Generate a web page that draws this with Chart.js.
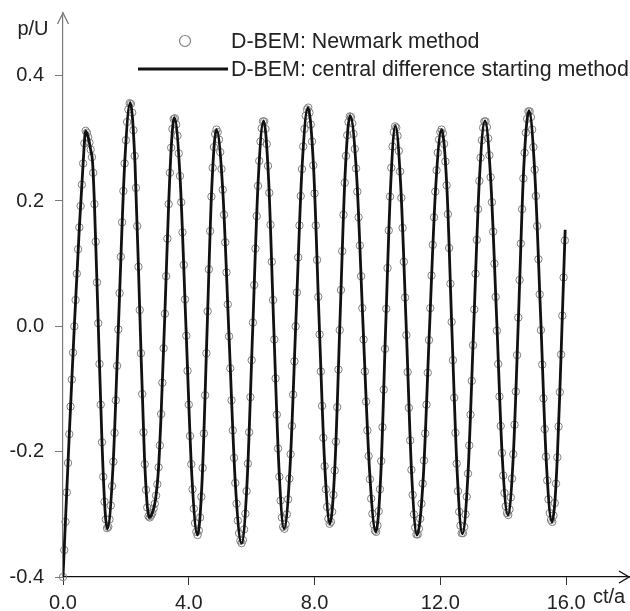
<!DOCTYPE html>
<html>
<head>
<meta charset="utf-8">
<script src="https://cdn.jsdelivr.net/npm/chart.js@4.4.1/dist/chart.umd.min.js"></script>
<style>
  body { margin: 0; background: #fff; }
  #wrap { width: 630px; height: 611px; }
</style>
</head>
<body>
<div id="wrap"><canvas id="chart"></canvas></div>
<script>
// axis ticks
const xTicks = [0, 4, 8, 12, 16];
const yTicks = [-0.4, -0.2, 0.0, 0.2, 0.4];

// D-BEM: Newmark method (circles), one value per time step
const newmarkStep = 0.04;
const newmarkP = [
  -0.400,-0.357,-0.312,-0.265,-0.218,-0.172,-0.128,-0.085,-0.042,0.000,0.042,0.084,0.123,0.158,0.192,0.226,0.260,0.292,0.312,0.309,0.302,0.293,0.282,0.270,0.245,
  0.195,0.135,0.070,0.005,-0.060,-0.125,-0.185,-0.240,-0.280,-0.308,-0.322,-0.320,-0.308,-0.286,-0.255,-0.216,-0.170,-0.118,-0.063,-0.005,0.053,0.111,0.166,0.216,0.260,
  0.297,0.326,0.346,0.356,0.355,0.341,0.313,0.272,0.221,0.160,0.095,0.026,-0.043,-0.108,-0.169,-0.220,-0.261,-0.289,-0.303,-0.305,-0.302,-0.298,-0.291,-0.283,-0.270,
  -0.252,-0.225,-0.190,-0.140,-0.090,-0.035,0.020,0.080,0.140,0.195,0.245,0.285,0.315,0.331,0.332,0.322,0.304,0.276,0.240,0.198,0.150,0.098,0.043,-0.015,-0.071,
  -0.125,-0.175,-0.220,-0.260,-0.291,-0.314,-0.328,-0.333,-0.326,-0.305,-0.272,-0.226,-0.171,-0.110,-0.043,0.024,0.091,0.152,0.207,0.253,0.286,0.307,0.314,0.310,0.298,
  0.278,0.251,0.218,0.178,0.134,0.086,0.035,-0.016,-0.067,-0.118,-0.166,-0.210,-0.250,-0.283,-0.310,-0.330,-0.342,-0.346,-0.341,-0.324,-0.299,-0.263,-0.219,-0.169,-0.113,
  -0.054,0.006,0.066,0.124,0.176,0.224,0.264,0.295,0.316,0.327,0.327,0.315,0.291,0.256,0.213,0.162,0.103,0.042,-0.021,-0.083,-0.141,-0.195,-0.240,-0.278,-0.305,
  -0.320,-0.323,-0.316,-0.300,-0.276,-0.243,-0.204,-0.159,-0.109,-0.056,0.000,0.054,0.110,0.161,0.208,0.251,0.287,0.315,0.336,0.346,0.349,0.341,0.322,0.295,0.257,
  0.212,0.161,0.106,0.047,-0.013,-0.072,-0.127,-0.178,-0.223,-0.260,-0.288,-0.307,-0.315,-0.312,-0.296,-0.269,-0.230,-0.184,-0.129,-0.069,-0.006,0.058,0.120,0.178,0.229,
  0.272,0.305,0.326,0.335,0.334,0.324,0.307,0.283,0.252,0.215,0.174,0.129,0.080,0.029,-0.021,-0.072,-0.120,-0.166,-0.207,-0.244,-0.275,-0.299,-0.316,-0.326,-0.328,
  -0.318,-0.295,-0.260,-0.215,-0.161,-0.101,-0.036,0.028,0.093,0.153,0.207,0.253,0.287,0.310,0.319,0.317,0.304,0.280,0.247,0.205,0.157,0.103,0.046,-0.014,-0.073,
  -0.130,-0.182,-0.229,-0.269,-0.300,-0.321,-0.332,-0.332,-0.323,-0.307,-0.283,-0.251,-0.214,-0.171,-0.125,-0.074,-0.022,0.029,0.081,0.130,0.174,0.215,0.249,0.277,0.298,
  0.310,0.314,0.308,0.291,0.263,0.225,0.179,0.125,0.068,0.007,-0.054,-0.114,-0.170,-0.219,-0.263,-0.296,-0.318,-0.330,-0.330,-0.320,-0.300,-0.272,-0.235,-0.190,-0.141,
  -0.087,-0.030,0.027,0.084,0.138,0.187,0.232,0.269,0.297,0.317,0.327,0.327,0.318,0.300,0.273,0.238,0.198,0.151,0.100,0.047,-0.007,-0.060,-0.112,-0.159,-0.202,
  -0.238,-0.266,-0.287,-0.298,-0.301,-0.292,-0.273,-0.243,-0.204,-0.157,-0.104,-0.046,0.014,0.074,0.132,0.187,0.236,0.277,0.309,0.331,0.343,0.343,0.334,0.314,0.286,
  0.250,0.208,0.160,0.107,0.051,-0.006,-0.061,-0.115,-0.164,-0.208,-0.246,-0.276,-0.298,-0.309,-0.312,-0.302,-0.282,-0.251,-0.209,-0.160,-0.105,-0.045,0.017,0.078,0.137
];

// D-BEM: central difference starting method (solid line)
const centralT = [
  0.00, 0.20, 0.36, 0.52, 0.64, 0.72,
  0.80, 0.88, 0.94, 1.00, 1.12, 1.24, 1.34, 1.41,
  1.59, 1.775, 1.96, 2.14,
  2.29, 2.44, 2.59, 2.74,
  2.84, 2.94, 3.04, 3.12, 3.24, 3.36, 3.46, 3.54,
  3.725, 3.91, 4.095, 4.28,
  4.43, 4.58, 4.73, 4.88,
  5.08, 5.28, 5.48, 5.68,
  5.855, 6.03, 6.205, 6.38,
  6.54, 6.70, 6.87, 7.03,
  7.22, 7.41, 7.60, 7.79,
  7.97, 8.14, 8.32, 8.49,
  8.65, 8.81, 8.97, 9.13,
  9.34, 9.54, 9.75, 9.95,
  10.11, 10.26, 10.42, 10.57,
  10.74, 10.92, 11.09, 11.26,
  11.46, 11.65, 11.85, 12.04,
  12.21, 12.37, 12.54, 12.70,
  12.88, 13.06, 13.24, 13.42,
  13.60, 13.79, 13.97, 14.15,
  14.32, 14.49, 14.65, 14.82,
  15.00, 15.19, 15.37, 15.55,
  15.64, 15.72, 15.80, 15.88, 15.97
];
const centralP = [
  -0.400, -0.172, 0.000, 0.158, 0.260, 0.312,
  0.302, 0.282, 0.262, 0.195, 0.005, -0.185, -0.296, -0.323,
  -0.224, 0.017, 0.258, 0.357,
  0.260, 0.026, -0.208, -0.305,
  -0.298, -0.277, -0.225, -0.140, 0.020, 0.195, 0.300, 0.333,
  0.236, 0.000, -0.236, -0.333,
  -0.239, -0.010, 0.220, 0.314,
  0.218, -0.016, -0.250, -0.346,
  -0.248, -0.009, 0.230, 0.328,
  0.233, 0.003, -0.228, -0.323,
  -0.225, 0.013, 0.251, 0.349,
  0.252, 0.017, -0.218, -0.315,
  -0.220, 0.011, 0.241, 0.336,
  0.239, 0.004, -0.231, -0.328,
  -0.233, -0.004, 0.225, 0.320,
  0.225, -0.007, -0.238, -0.333,
  -0.239, -0.010, 0.220, 0.314,
  0.220, -0.009, -0.237, -0.331,
  -0.235, -0.002, 0.232, 0.328,
  0.236, 0.014, -0.209, -0.301,
  -0.207, 0.022, 0.250, 0.344,
  0.248, 0.016, -0.216, -0.312,
  -0.282, -0.209, -0.105, 0.017, 0.154
];

const FONT = '"Liberation Sans", Arial, sans-serif';

const newmarkData = newmarkP.map((p, i) => ({ x: i * newmarkStep, y: p }));
const centralData = centralT.map((t, i) => ({ x: t, y: centralP[i] }));

// arrows, axis titles and legend drawn by hand
const decorPlugin = {
    id: "decor",
    afterDraw(chart) {
        const ctx = chart.ctx;
        const a = chart.chartArea;
        ctx.save();

        ctx.lineWidth = 1.3;
        ctx.strokeStyle = "#7a7a7a";
        ctx.beginPath();
        ctx.moveTo(a.left - 5.5, a.top + 11);
        ctx.lineTo(a.left, a.top);
        ctx.lineTo(a.left + 5.5, a.top + 11);
        ctx.stroke();

        ctx.strokeStyle = "#111";
        ctx.beginPath();
        ctx.moveTo(a.right - 10, a.bottom - 6);
        ctx.lineTo(a.right, a.bottom);
        ctx.lineTo(a.right - 10, a.bottom + 6);
        ctx.stroke();

        ctx.fillStyle = "#222";
        ctx.font = "20px " + FONT;
        ctx.textAlign = "center";
        ctx.textBaseline = "middle";
        ctx.fillText("p/U", 33, 29);
        ctx.fillText("ct/a", 609, 597);

        // legend
        const ds = chart.data.datasets;
        ctx.font = "21.4px " + FONT;
        ctx.textAlign = "left";
        ctx.lineWidth = 1.2;
        ctx.strokeStyle = "#808080";
        ctx.beginPath();
        ctx.arc(185, 41, 5.5, 0, Math.PI * 2);
        ctx.stroke();
        ctx.fillText(ds[1].label, 231, 42);

        ctx.lineWidth = 2.8;
        ctx.strokeStyle = "#111";
        ctx.beginPath();
        ctx.moveTo(138, 69);
        ctx.lineTo(228, 69);
        ctx.stroke();
        ctx.fillText(ds[0].label, 231, 70);

        ctx.restore();
    },
};

new Chart(document.getElementById("chart"), {
    type: "scatter",
    data: {
        datasets: [
            {
                label: "D-BEM: central difference starting method",
                data: centralData,
                showLine: true,
                borderColor: "#111",
                borderWidth: 2.8,
                pointRadius: 0,
                cubicInterpolationMode: "monotone",
                order: 0,
            },
            {
                label: "D-BEM: Newmark method",
                data: newmarkData,
                showLine: false,
                pointStyle: "circle",
                pointRadius: 3.7,
                pointBorderWidth: 1,
                pointBorderColor: "#7f7f7f",
                pointBackgroundColor: "rgba(255,255,255,0)",
                clip: false,
                order: 1,
            },
        ],
    },
    options: {
        responsive: true,
        maintainAspectRatio: false,
        animation: false,
        layout: {
            autoPadding: false,
            padding: { top: 13, right: 1, left: 0, bottom: 0 },
        },
        plugins: {
            legend: { display: false },
            tooltip: { enabled: false },
        },
        scales: {
            x: {
                type: "linear",
                min: 0,
                max: 18,
                afterBuildTicks(scale) {
                    scale.ticks = xTicks.map((v) => ({ value: v }));
                },
                afterFit(scale) {
                    scale.height = 34;
                    scale.paddingLeft = 0;
                    scale.paddingRight = 0;
                },
                ticks: {
                    padding: 6,
                    color: "#222",
                    font: { family: FONT, size: 20 },
                    maxRotation: 0,
                    callback: (v) => Number(v).toFixed(1),
                },
                grid: {
                    drawOnChartArea: false,
                    drawTicks: true,
                    tickLength: 8,
                    color: "#333",
                },
                border: { display: true, color: "#111", width: 1.2 },
            },
            y: {
                type: "linear",
                min: -0.4,
                max: 0.5,
                afterBuildTicks(scale) {
                    scale.ticks = yTicks.map((v) => ({ value: v }));
                },
                afterFit(scale) {
                    scale.width = 63;
                    scale.paddingTop = 0;
                    scale.paddingBottom = 0;
                },
                ticks: {
                    padding: 11,
                    color: "#222",
                    font: { family: FONT, size: 20 },
                    callback: (v) => Number(v).toFixed(1),
                },
                grid: {
                    drawOnChartArea: false,
                    drawTicks: true,
                    tickLength: 8,
                    color: "#7a7a7a",
                },
                border: { display: true, color: "#7a7a7a", width: 1.2 },
            },
        },
    },
    plugins: [decorPlugin],
});
</script>
</body>
</html>
